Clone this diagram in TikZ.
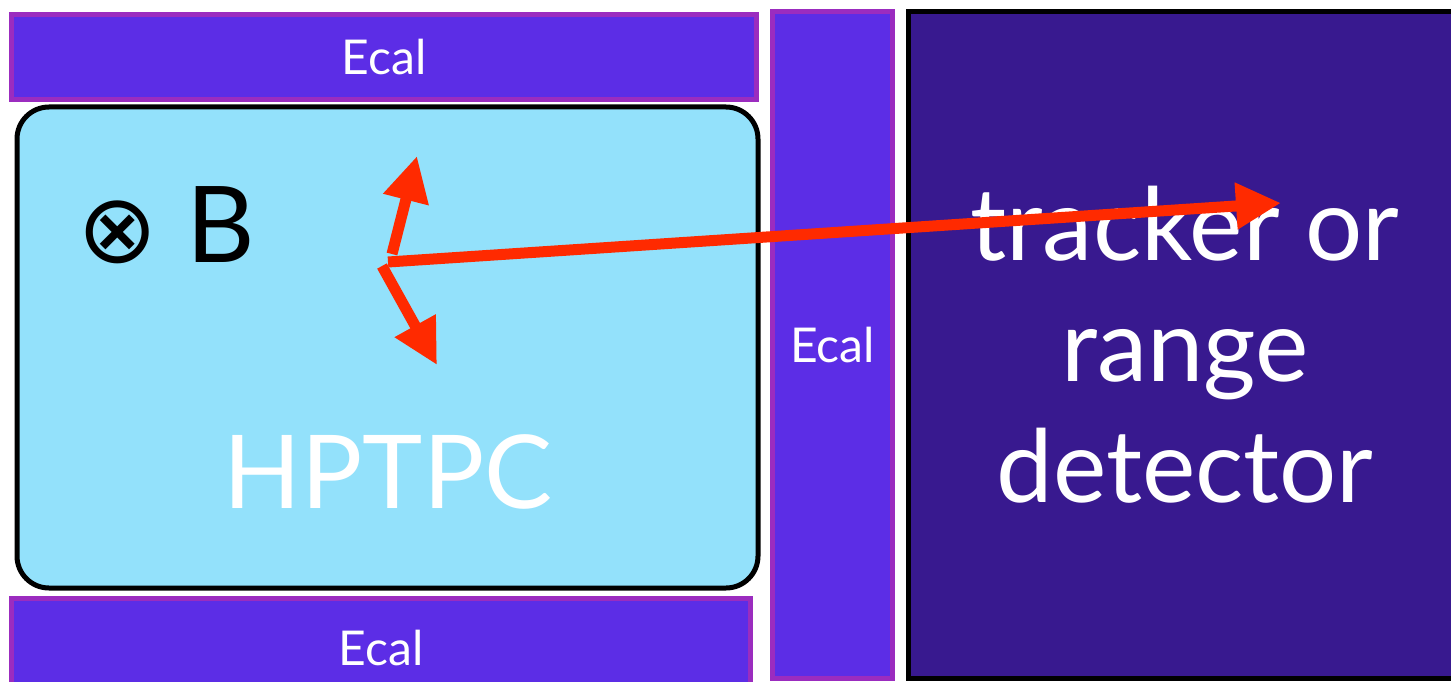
\documentclass[tikz,border=0pt]{standalone}
\usepackage{fontspec}
\setmainfont{Lato}
\newfontfamily\symfont{DejaVu Sans}
\usetikzlibrary{arrows.meta}
\definecolor{ecalfill}{HTML}{5C2DE6}
\definecolor{ecaledge}{HTML}{9B2CBF}
\definecolor{tpcfill}{HTML}{93E1FB}
\definecolor{trkfill}{HTML}{38198F}
\definecolor{trackred}{HTML}{FF2A00}

\begin{document}
\begin{tikzpicture}[x=1pt,y=-1pt,
  ecal/.style={draw=ecaledge,fill=ecalfill,line width=5pt,text=white,font=\fontsize{48}{50}\selectfont},
  tpc/.style={draw=black,fill=tpcfill,line width=5pt,rounded corners=32pt},
  trk/.style={draw=black,fill=trkfill,line width=5pt,text=white,align=center,font=\fontsize{101}{121}\selectfont},
  trackarrow/.style={draw=trackred,line width=11pt,-{Triangle[length=45pt,width=44pt]}}]
\tikzstyle{every node}+=[inner sep=0pt,outer sep=0pt]
\useasboundingbox (0,0) rectangle (1451,682);
\clip (0,0) rectangle (1451,682);
\fill [white] (0,0) rectangle (1451,682);
% calorimeters
\node [ecal,minimum width=745pt,minimum height=85pt] (ecaltop) at (384,57) {Ecal};
\node [ecal,minimum width=739pt,minimum height=99pt] (ecalbot) at (381,648) {Ecal};
\node [ecal,minimum width=120pt,minimum height=667pt] (ecalside) at (832.5,345) {Ecal};
% gas tpc
\node [tpc,minimum width=741pt,minimum height=481pt] (hptpc) at (387.5,347.5) {};
\node [text=white,font=\fontsize{102}{110}\selectfont] (hptpclabel) at (388,471.5) {HPTPC};
\node [font=\symfont\fontsize{96}{100}\selectfont] (bdir) at (118,232) {⊗};
\node [font=\fontsize{106}{110}\selectfont] (bfield) at (221,225) {B};
% downstream
\node [trk,minimum width=553pt,minimum height=666pt] (tracker) at (1185,345) {tracker or\\range\\detector};
% tracks
\coordinate (upstart) at (392,254);
\coordinate (uptip) at (417,156);
\coordinate (downstart) at (382,266);
\coordinate (downtip) at (437,365);
\coordinate (longstart) at (388,262);
\coordinate (longtip) at (1281,203);
\draw [trackarrow] (upstart) -- (uptip);
\draw [trackarrow] (downstart) -- (downtip);
\draw [trackarrow] (longstart) -- (longtip);
\end{tikzpicture}
\end{document}
